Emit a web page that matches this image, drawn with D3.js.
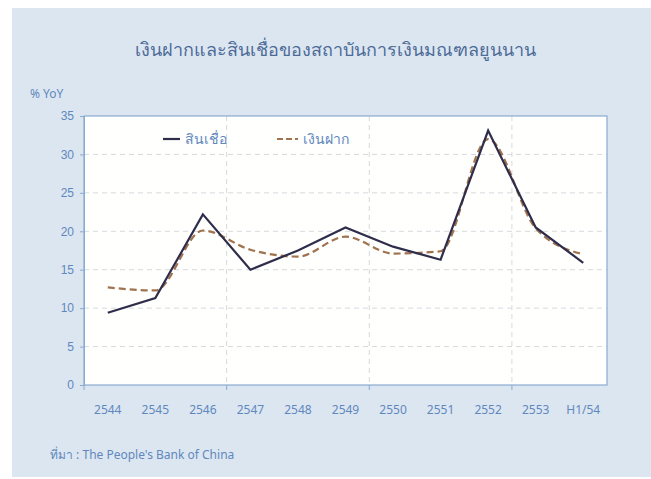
<!DOCTYPE html>
<html><head><meta charset="utf-8">
<script src="https://cdn.jsdelivr.net/npm/d3@7"></script>
<style>body{margin:0;background:#fff;}svg{display:block;font-family:"Noto Sans","Open Sans",sans-serif;}</style>
</head><body><svg id="c" width="651" height="479"></svg>
<script>
const categories = ["2544","2545","2546","2547","2548","2549","2550","2551","2552","2553","H1/54"];
const credit  = [9.4, 11.3, 22.2, 15.0, 17.5, 20.5, 18.0, 16.3, 33.1, 20.5, 15.9];
const deposit = [12.7, 12.3, 20.1, 17.6, 16.7, 19.3, 17.1, 17.4, 32.0, 20.4, 17.0];
const yTicks = [0,5,10,15,20,25,30,35];
const seriesNames = ["สินเชื่อ","เงินฝาก"];
const title = "เงินฝากและสินเชื่อของสถาบันการเงินมณฑลยูนนาน";
const yLabel = "% YoY";
const source = "ที่มา : The People's Bank of China";

const svg = d3.select("#c");
const textCol = "#6088bd", axisCol = "#8aaad0";
svg.append("rect").attr("x",12).attr("y",8).attr("width",639).attr("height",469).attr("fill","#dce6f1");

const L=84,R=607,T=116,B=385;
const x = d3.scaleBand().domain(categories).range([L,R]);
const y = d3.scaleLinear().domain([0,35]).range([B,T]);

svg.append("rect").attr("x",L).attr("y",T).attr("width",R-L).attr("height",B-T).attr("fill","#fffffd");

// horizontal grid
svg.append("g").selectAll("line").data(yTicks.filter(d=>d>0&&d<35)).join("line")
  .attr("x1",L).attr("x2",R).attr("y1",d=>y(d)).attr("y2",d=>y(d))
  .attr("stroke","#d6d9de").attr("stroke-dasharray","5,4").attr("stroke-width",1);
// vertical grid at every 3 categories
const vIdx = [3,6,9];
svg.append("g").selectAll("line").data(vIdx).join("line")
  .attr("x1",d=>x(categories[d])).attr("x2",d=>x(categories[d])).attr("y1",T).attr("y2",B)
  .attr("stroke","#d6d9de").attr("stroke-dasharray","5,4");

// plot border
svg.append("rect").attr("x",L).attr("y",T).attr("width",R-L).attr("height",B-T)
  .attr("fill","none").attr("stroke",axisCol).attr("stroke-width",1.2);

// y axis
const ya = svg.append("g").attr("transform",`translate(${L},0)`)
  .call(d3.axisLeft(y).tickValues(yTicks).tickSize(4).tickPadding(6));
ya.select(".domain").attr("stroke",axisCol);
ya.selectAll(".tick line").attr("stroke",axisCol);
ya.selectAll("text").attr("fill",textCol).attr("font-size",12);

// x axis ticks at 0,3,6,9 boundaries
svg.append("g").selectAll("line").data([0,3,6,9]).join("line")
  .attr("x1",d=>x(categories[d])).attr("x2",d=>x(categories[d])).attr("y1",B).attr("y2",B+5)
  .attr("stroke",axisCol);
svg.append("g").selectAll("text").data(categories).join("text")
  .attr("x",d=>x(d)+x.bandwidth()/2).attr("y",414).attr("text-anchor","middle")
  .attr("fill",textCol).attr("font-size",12).text(d=>d);

const cx = (d,i)=>x(categories[i])+x.bandwidth()/2;
svg.append("path").datum(deposit)
  .attr("d",d3.line().x(cx).y(d=>y(d)).curve(d3.curveMonotoneX))
  .attr("fill","none").attr("stroke","#a0724e").attr("stroke-width",2.2).attr("stroke-dasharray","7,4");
svg.append("path").datum(credit)
  .attr("d",d3.line().x(cx).y(d=>y(d)))
  .attr("fill","none").attr("stroke","#2e2e4c").attr("stroke-width",2.2);

// legend
svg.append("line").attr("x1",163).attr("x2",180).attr("y1",139).attr("y2",139).attr("stroke","#2e2e4c").attr("stroke-width",2.2);
svg.append("text").attr("x",185).attr("y",144).attr("fill",textCol).attr("font-size",14).text(seriesNames[0]);
svg.append("line").attr("x1",277).attr("x2",298).attr("y1",139).attr("y2",139).attr("stroke","#a0724e").attr("stroke-width",2.2).attr("stroke-dasharray","6,3");
svg.append("text").attr("x",303).attr("y",144).attr("fill",textCol).attr("font-size",14).text(seriesNames[1]);

// title
svg.append("text").attr("x",335).attr("y",56).attr("text-anchor","middle").attr("fill","#4d6b97").attr("font-size",18).text(title);
svg.append("text").attr("x",30).attr("y",98).attr("fill",textCol).attr("font-size",12).text(yLabel);
svg.append("text").attr("x",50).attr("y",459).attr("fill",textCol).attr("font-size",12).text(source);
</script></body></html>
